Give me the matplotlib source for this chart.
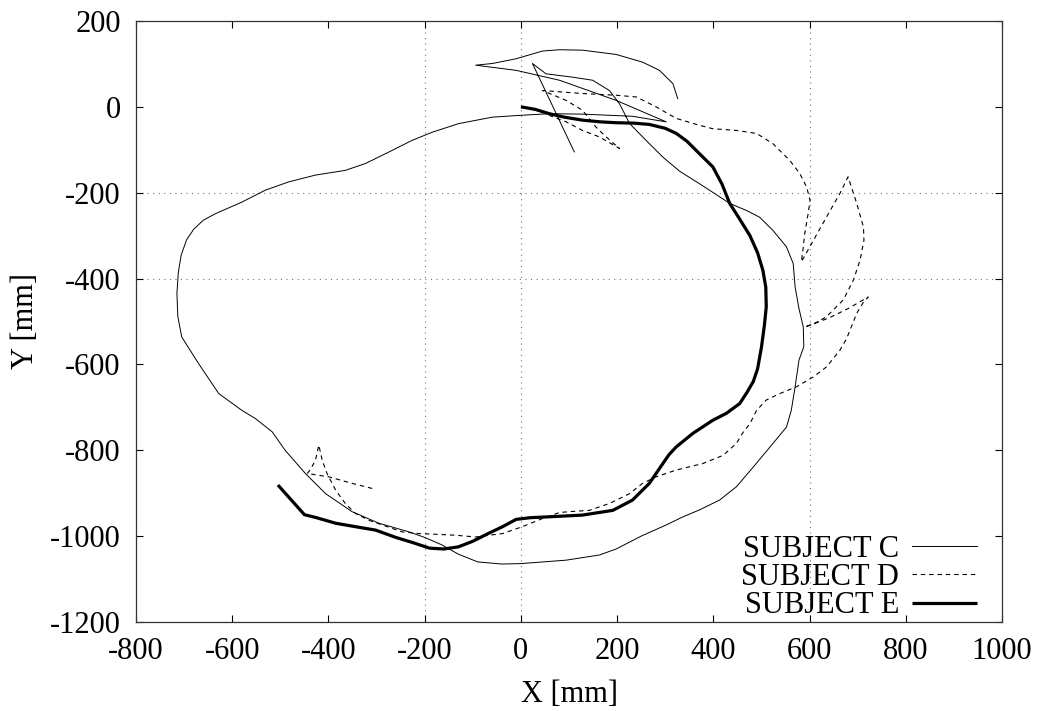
import matplotlib
matplotlib.use("Agg")
import matplotlib.pyplot as plt

plt.rcParams['font.family'] = ['Liberation Serif', 'DejaVu Serif']
plt.rcParams['axes.unicode_minus'] = False

# ---------------- data (mm) ----------------
c_x = [111, 24, 52, 108, 149, 184, 205, 226, 260, 295, 330, 371, 400, 434, 470, 496, 524, 552, 566,
       570, 578, 587, 588, 578, 570, 562, 552, 524, 483, 448, 413, 371, 337, 300, 250, 198, 163, 94,
       0, -40, -90, -130, -165, -200, -233, -295, -351, -406, -448, -490, -517, -552, -580, -628,
       -670, -705, -713, -715, -712, -706, -695, -680, -660, -635, -580, -531, -483, -427, -365, -323,
       -274, -226, -184, -129, -59, -4, 59, 128, 232, 302, 198, 80, -10, -94, -59, -10, 45, 80, 128,
       198, 253, 288, 316, 326]
c_y = [-105, 101, 77, 69, 62, 38, 7, -39, -78, -117, -150, -179, -200, -225, -242, -257, -288, -326,
       -365, -420, -470, -513, -559, -590, -652, -707, -746, -784, -839, -885, -916, -939, -955,
       -975, -1000, -1030, -1044, -1056, -1064, -1065, -1060, -1042, -1020, -1003, -990, -970,
       -943, -901, -854, -800, -757, -726, -707, -668, -598, -536, -489, -435, -385, -345, -310,
       -285, -264, -249, -222, -194, -175, -159, -148, -132, -105, -78, -59, -39, -24, -20, -16, -17,
       -22, -35, 15, 62, 85, 97, 101, 112, 130, 133, 132, 122, 104, 85, 54, 19]

d_x = [-309, -351, -399, -444, -438, -427, -420, -413, -403, -385, -365, -344, -316, -288, -247,
       -212, -170, -135, -94, -38, 3, 45, 80, 101, 142, 184, 226, 253, 281, 323, 378, 420, 448, 462,
       476, 490, 510, 538, 573, 608, 635, 663, 677, 698, 712, 722, 680, 640, 590, 610, 635, 670,
       691, 705, 713, 712, 698, 680, 663, 635, 608, 583, 587, 590, 597, 601, 594, 580, 559, 524,
       490, 448, 399, 371, 323, 281, 240, 198, 128, 45, 94, 128, 156, 177, 205, 163, 128, 94, 59]
d_y = [-889, -877, -862, -854, -846, -823, -788, -823, -854, -893, -924, -947, -963, -974, -990,
       -994, -996, -998, -1002, -994, -978, -959, -945, -943, -940, -924, -901, -877, -862, -846,
       -831, -812, -784, -758, -738, -707, -683, -668, -652, -629, -606, -567, -540, -481, -455,
       -443, -470, -492, -513, -505, -489, -450, -404, -357, -311, -280, -225, -163, -202, -257,
       -311, -361, -326, -295, -249, -218, -187, -156, -125, -86, -62, -55, -51, -43, -27, 0, 23,
       27, 31, 38, 15, -8, -47, -70, -97, -70, -55, -35, -20]

e_x = [0, 30, 59, 90, 128, 165, 198, 235, 267, 300, 323, 345, 371, 399, 418, 434, 455, 476, 492,
       503, 509, 510, 506, 500, 492, 483, 470, 455, 427, 399, 357, 323, 308, 295, 267, 232, 191,
       128, 59, 20, -10, -38, -70, -100, -130, -160, -190, -225, -260, -302, -344, -385, -425,
       -450, -505]
e_y = [0, -6, -16, -24, -31, -35, -37, -38, -41, -50, -62, -80, -109, -140, -180, -225, -262, -300,
       -340, -381, -420, -466, -510, -560, -610, -640, -665, -691, -714, -730, -761, -792, -810,
       -831, -877, -916, -940, -951, -955, -957, -961, -978, -995, -1012, -1025, -1030, -1028,
       -1015, -1003, -986, -978, -970, -957, -950, -881]

labels = ["SUBJECT C", "SUBJECT D", "SUBJECT E"]
x_ticks = [-800, -600, -400, -200, 0, 200, 400, 600, 800, 1000]
y_ticks = [-1200, -1000, -800, -600, -400, -200, 0, 200]

# ---------------- figure ----------------
fig = plt.figure(figsize=(10.43, 7.11), dpi=100)
ax = fig.add_axes([0.1304, 0.1252, 0.8303, 0.8453])

ax.set_xlim(-800, 1000)
ax.set_ylim(-1200, 200)

# faint dotted grid (as visible in the scan)
for gx in [-200, 0, 600]:
    ax.axvline(gx, color='#777777', lw=0.8, ls=(0, (1, 4)), zorder=0)
for gy in [-200, -400]:
    ax.axhline(gy, color='#777777', lw=0.8, ls=(0, (1, 4)), zorder=0)

styles = [dict(color='black', lw=0.7, ls='-'),
          dict(color='black', lw=0.8, ls=(0, (4, 3.5))),
          dict(color='black', lw=2.3, ls='-', solid_capstyle='butt')]

ax.plot(c_x, c_y, **styles[0])
ax.plot(d_x, d_y, **styles[1])
ax.plot(e_x, e_y, **styles[2])

ax.set_xticks(x_ticks)
ax.set_yticks(y_ticks)
ax.set_xticklabels([str(v) for v in x_ticks])
ax.set_yticklabels([str(v) for v in y_ticks])
ax.tick_params(direction='in', length=5, width=0.8, labelsize=22,
               top=True, right=True, pad=11, colors='black')
ax.tick_params(axis='y', pad=11)

for sp in ax.spines.values():
    sp.set_linewidth(0.9)
    sp.set_color('#333333')

ax.set_xlabel("X [mm]", fontsize=22)
ax.set_ylabel("Y [mm]", fontsize=22)
ax.xaxis.set_label_coords(0.5, -0.097)
ax.yaxis.set_label_coords(-0.111, 0.5)

# legend (gnuplot style: label right-aligned, then sample line)
line_y = [0.1265, 0.0794, 0.0321]
text_y = [0.1087, 0.0616, 0.0145]
for lab, st, ly, ty in zip(labels, styles, line_y, text_y):
    ax.text(0.881, ty, lab, transform=ax.transAxes, ha='right', va='baseline', fontsize=22)
    ax.plot([0.896, 0.971], [ly, ly], transform=ax.transAxes, **st)

fig.savefig("out.png", dpi=100)
